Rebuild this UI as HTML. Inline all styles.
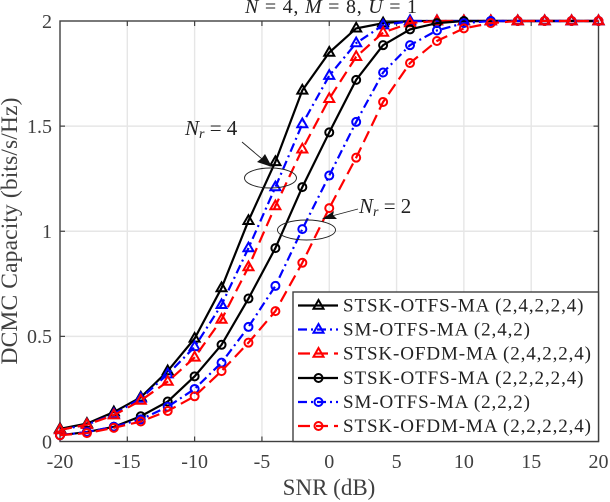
<!DOCTYPE html>
<html>
<head>
<meta charset="utf-8">
<style>
html,body{margin:0;padding:0;background:#fff}
svg{display:block;font-family:"Liberation Serif",serif}
</style>
</head>
<body>
<svg id="chart" width="610" height="502" viewBox="0 0 610 502" xmlns="http://www.w3.org/2000/svg">
<text x="245" y="13" font-size="20" fill="#222" textLength="172" lengthAdjust="spacing"><tspan font-style="italic">N</tspan> = 4, <tspan font-style="italic">M</tspan> = 8, <tspan font-style="italic">U</tspan> = 1</text>
<text transform="translate(17,231) rotate(-90)" font-size="23.5" text-anchor="middle" fill="#404040" textLength="267" lengthAdjust="spacing">DCMC Capacity (bits/s/Hz)</text>
<text x="329" y="495" font-size="23" text-anchor="middle" fill="#404040">SNR (dB)</text>
<g id="grid"></g>
<g id="axes"></g>
<rect x="60" y="21" width="538.5" height="420.5" fill="none" stroke="#404040" stroke-width="1.4"/>
<g id="series"></g>
<g>
<ellipse cx="270.5" cy="178" rx="26" ry="10" fill="none" stroke="#222" stroke-width="0.9"/>
<ellipse cx="306.5" cy="230" rx="29" ry="10" fill="none" stroke="#222" stroke-width="0.9"/>
<line x1="242" y1="142" x2="268" y2="164" stroke="#222" stroke-width="0.9"/>
<polygon points="272,167 257,162 262,158 265,154" fill="#111"/>
<line x1="358" y1="209" x2="328" y2="217" stroke="#222" stroke-width="0.9"/>
<polygon points="322,219 334,211 333,215 337,219" fill="#111"/>
<text x="185" y="135" font-size="21" fill="#222"><tspan font-style="italic">N</tspan><tspan font-style="italic" font-size="14" dy="3">r</tspan><tspan dy="-3"> = 4</tspan></text>
<text x="359" y="213" font-size="21" fill="#222"><tspan font-style="italic">N</tspan><tspan font-style="italic" font-size="14" dy="3">r</tspan><tspan dy="-3"> = 2</tspan></text>
</g>
<g id="legend"></g>
</svg>
<script>
const snr = [-20,-18,-16,-14,-12,-10,-8,-6,-4,-2,0,2,4,6,8,10,12,14,16,18,20];
const stskOtfs4 = [0.06,0.085,0.14,0.21,0.335,0.49,0.73,1.05,1.33,1.67,1.85,1.965,1.99,2,2,2,2,2,2,2,2];
const smOtfs4 = [0.055,0.08,0.13,0.205,0.32,0.45,0.65,0.92,1.21,1.51,1.74,1.895,1.98,2,2,2,2,2,2,2,2];
const stskOfdm4 = [0.055,0.08,0.125,0.195,0.285,0.40,0.58,0.83,1.12,1.39,1.63,1.83,1.945,1.99,2,2,2,2,2,2,2];
const stskOtfs2 = [0.03,0.045,0.07,0.12,0.19,0.31,0.46,0.68,0.92,1.21,1.47,1.72,1.885,1.96,1.99,2,2,2,2,2,2];
const smOtfs2 = [0.03,0.045,0.07,0.105,0.165,0.25,0.375,0.545,0.74,1.01,1.265,1.52,1.755,1.885,1.955,1.99,2,2,2,2,2];
const stskOfdm2 = [0.03,0.04,0.065,0.095,0.145,0.215,0.335,0.47,0.62,0.85,1.11,1.35,1.615,1.80,1.905,1.965,1.99,2,2,2,2];
const seriesLabels = ['STSK-OTFS-MA (2,4,2,2,4)','SM-OTFS-MA (2,4,2)','STSK-OFDM-MA (2,4,2,2,4)','STSK-OTFS-MA (2,2,2,2,4)','SM-OTFS-MA (2,2,2)','STSK-OFDM-MA (2,2,2,2,4)'];
const xTicks = [-20,-15,-10,-5,0,5,10,15,20];
const yTicks = [0,0.5,1,1.5,2];
const yTickLabels = ['0','0.5','1','1.5','2'];

const NS = 'http://www.w3.org/2000/svg';
const xScale = v => 60 + (v + 20) * 538.5 / 40;
const yScale = v => 441.5 - v * 210.25;
const styles = [
  {values: stskOtfs4, color:'#000', dash:'', tri:true, w:240.5},
  {values: smOtfs4, color:'#00f', dash:'9 4 2 4', tri:true, w:187},
  {values: stskOfdm4, color:'#f00', dash:'12 6', tri:true, w:248},
  {values: stskOtfs2, color:'#000', dash:'', tri:false, w:240.5},
  {values: smOtfs2, color:'#00f', dash:'9 4 2 4', tri:false, w:187},
  {values: stskOfdm2, color:'#f00', dash:'12 6', tri:false, w:248}
];
function mk(tag, attrs, parent) {
  const el = document.createElementNS(NS, tag);
  for (const k in attrs) el.setAttribute(k, attrs[k]);
  parent.appendChild(el);
  return el;
}
function marker(parent, s, x, y) {
  if (s.tri) {
    return mk('polygon', {points: x+','+(y-5.5)+' '+(x+5)+','+(y+3.2)+' '+(x-5)+','+(y+3.2), fill:'none', stroke:s.color, 'stroke-width':2}, parent);
  }
  return mk('circle', {cx:x, cy:y, r:4, fill:'none', stroke:s.color, 'stroke-width':2}, parent);
}
const grid = document.getElementById('grid');
const axes = document.getElementById('axes');
xTicks.forEach(t => {
  const x = xScale(t);
  if (t > -20 && t < 20) {
    const g = mk('line', {x1:x, x2:x, y1:21, y2:441.5, stroke:'#e6e6e6', 'stroke-width':1.4}, grid);
    
    
    const a = mk('line', {x1:x, x2:x, y1:21, y2:26, stroke:'#404040', 'stroke-width':1.2}, axes);
    
    
    const b = mk('line', {x1:x, x2:x, y1:441.5, y2:436.5, stroke:'#404040', 'stroke-width':1.2}, axes);
    
    
  }
  const l = mk('text', {x:x, y:468, 'font-size':20, 'text-anchor':'middle', fill:'#404040'}, axes);
  
  
  l.textContent = t;
});
yTicks.forEach((t, i) => {
  const y = yScale(t);
  if (t > 0 && t < 2) {
    const g = mk('line', {x1:60, x2:598.5, y1:y, y2:y, stroke:'#e6e6e6', 'stroke-width':1.4}, grid);
    
    
    const a = mk('line', {x1:60, x2:65, y1:y, y2:y, stroke:'#404040', 'stroke-width':1.2}, axes);
    
    
    const b = mk('line', {x1:598.5, x2:593.5, y1:y, y2:y, stroke:'#404040', 'stroke-width':1.2}, axes);
    
    
  }
  const l = mk('text', {x:52, y:y+6.8, 'font-size':20, 'text-anchor':'end', fill:'#404040'}, axes);
  
  
  l.textContent = yTickLabels[i];
});
const seriesG = document.getElementById('series');
styles.forEach((s, i) => {
  const g = mk('g', {}, seriesG);
  
  
  const pts = s.values.map((v, k) => xScale(snr[k]) + ',' + yScale(v)).join(' ');
  const line = mk('polyline', {points:pts, fill:'none', stroke:s.color, 'stroke-width':2.2, 'stroke-dasharray':s.dash}, g);
  
  
  s.values.forEach((v, k) => {
    const m = marker(g, s, xScale(snr[k]), yScale(v));
    
    
  });
});
const legend = document.getElementById('legend');
const box = mk('rect', {x:293, y:292, width:305.5, height:149.5, fill:'#fff', stroke:'#404040', 'stroke-width':1.4}, legend);


const rowY = [305.5, 329.5, 353.5, 378, 402, 426];
seriesLabels.forEach((txt, i) => {
  const s = styles[i];
  const g = mk('g', {}, legend);
  
  
  const ln = mk('line', {x1:298, x2:338, y1:rowY[i], y2:rowY[i], stroke:s.color, 'stroke-width':2.2, 'stroke-dasharray':s.dash}, g);
  
  
  const m = marker(g, s, 318.5, rowY[i]);
  
  
  const t = mk('text', {x:343, y:rowY[i]+6, 'font-size':19, fill:'#222', textLength:s.w, lengthAdjust:'spacing'}, g);
  
  
  t.textContent = txt;
});
</script>
</body>
</html>
